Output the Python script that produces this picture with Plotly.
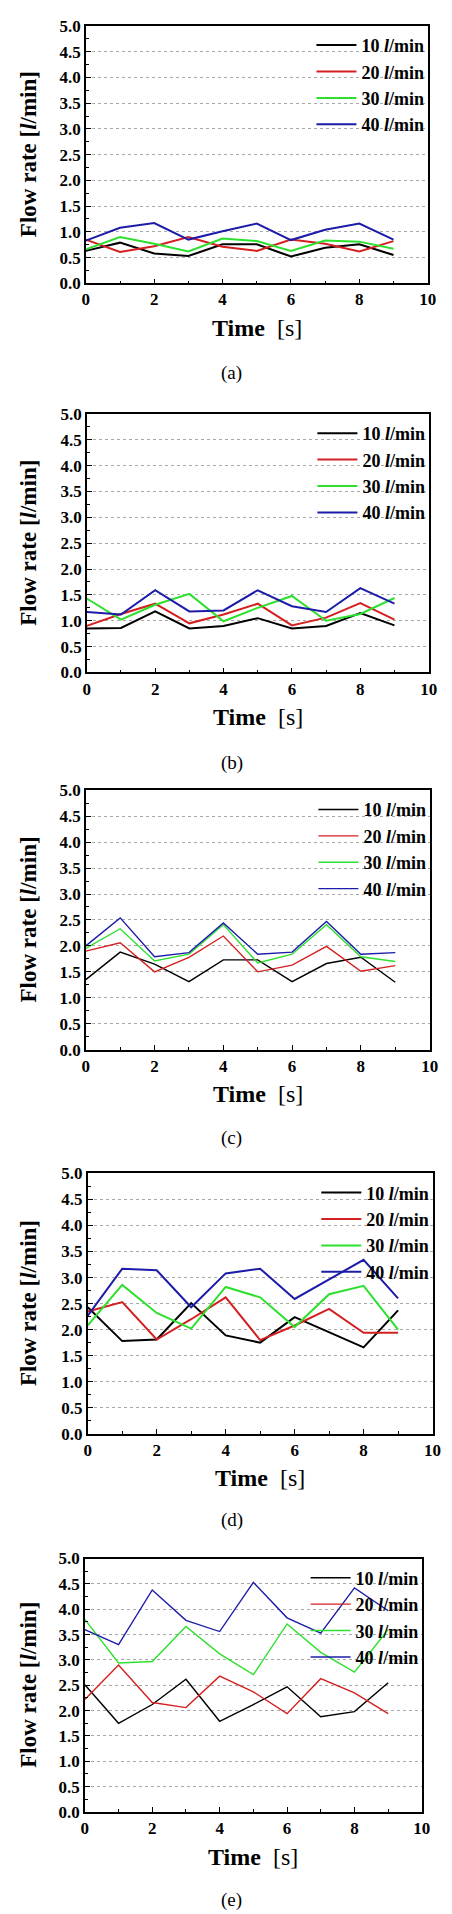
import plotly.graph_objects as go

# ---------------- data ----------------
time_s = [0, 1, 2, 3, 4, 5, 6, 7, 8, 9]
series_labels = ["10 <i>l</i>/min", "20 <i>l</i>/min", "30 <i>l</i>/min", "40 <i>l</i>/min"]
panel_captions = ["(a)", "(b)", "(c)", "(d)", "(e)"]
y_ticks = [0.0, 0.5, 1.0, 1.5, 2.0, 2.5, 3.0, 3.5, 4.0, 4.5, 5.0]
x_ticks = [0, 2, 4, 6, 8, 10]

a_10 = [0.63, 0.79, 0.58, 0.53, 0.76, 0.76, 0.52, 0.69, 0.76, 0.55]
a_20 = [0.85, 0.61, 0.72, 0.90, 0.71, 0.63, 0.85, 0.77, 0.62, 0.82]
a_30 = [0.66, 0.90, 0.77, 0.62, 0.87, 0.82, 0.63, 0.83, 0.81, 0.67]
a_40 = [0.83, 1.08, 1.17, 0.85, 1.01, 1.16, 0.84, 1.04, 1.16, 0.85]

b_10 = [0.85, 0.86, 1.18, 0.85, 0.90, 1.05, 0.85, 0.90, 1.15, 0.91]
b_20 = [0.90, 1.13, 1.33, 0.95, 1.12, 1.33, 0.91, 1.06, 1.34, 1.02]
b_30 = [1.43, 1.02, 1.31, 1.52, 0.99, 1.25, 1.48, 1.00, 1.13, 1.44]
b_40 = [1.17, 1.12, 1.59, 1.18, 1.20, 1.59, 1.28, 1.17, 1.63, 1.33]

c_10 = [1.35, 1.88, 1.65, 1.31, 1.73, 1.73, 1.31, 1.66, 1.78, 1.30]
c_20 = [1.90, 2.06, 1.50, 1.78, 2.19, 1.50, 1.63, 1.99, 1.51, 1.62]
c_30 = [1.95, 2.33, 1.71, 1.84, 2.41, 1.67, 1.84, 2.41, 1.79, 1.70]
c_40 = [2.00, 2.54, 1.79, 1.87, 2.44, 1.84, 1.88, 2.47, 1.84, 1.87]

d_10 = [2.43, 1.78, 1.81, 2.51, 1.89, 1.75, 2.24, 1.95, 1.66, 2.37]
d_20 = [2.35, 2.53, 1.81, 2.20, 2.62, 1.80, 2.08, 2.40, 1.94, 1.94]
d_30 = [2.08, 2.86, 2.32, 2.02, 2.82, 2.62, 2.05, 2.68, 2.84, 2.00]
d_40 = [2.27, 3.17, 3.14, 2.43, 3.08, 3.17, 2.59, 2.96, 3.34, 2.60]

e_10 = [2.51, 1.75, 2.12, 2.62, 1.79, 2.12, 2.47, 1.88, 1.98, 2.55]
e_20 = [2.22, 2.90, 2.16, 2.06, 2.68, 2.37, 1.94, 2.63, 2.35, 1.94]
e_30 = [3.80, 2.94, 2.97, 3.66, 3.12, 2.71, 3.71, 3.15, 2.76, 3.60]
e_40 = [3.60, 3.30, 4.38, 3.78, 3.56, 4.53, 3.83, 3.53, 4.42, 3.97]

panels = [
    [a_10, a_20, a_30, a_40],
    [b_10, b_20, b_30, b_40],
    [c_10, c_20, c_30, c_40],
    [d_10, d_20, d_30, d_40],
    [e_10, e_20, e_30, e_40],
]

# ---------------- layout / style ----------------
W, H = 452, 1914
FONT = "Liberation Serif"
colors = ["#000000", "#d42020", "#2ee02e", "#1c1ca8"]
line_widths = [2.0, 2.0, 1.4, 2.0, 1.4]

# plot-area pixel boxes (left, right, top, bottom)
boxes = [
    (76, 428, 9, 269),
    (77, 429, 401, 662),
    (76, 430, 781, 1043),
    (78, 433, 1168, 1431),
    (75, 422, 1557, 1813),
]
caption_y = [360, 753, 1132, 1518, 1902]


def px(xv):
    return xv / W


def py(yv):
    return 1 - yv / H


fig = go.Figure()
annotations = []
layout_extra = {}

for i, (series, box) in enumerate(zip(panels, boxes)):
    l, r, t, b = box
    sfx = "" if i == 0 else str(i + 1)
    xref = "x" + sfx
    yref = "y" + sfx
    legend_name = "legend" + sfx
    for j, vals in enumerate(series):
        fig.add_trace(go.Scatter(
            x=time_s, y=vals, mode="lines", name="<b>" + series_labels[j] + "</b>",
            line=dict(color=colors[j], width=line_widths[i]),
            xaxis=xref, yaxis=yref, legend=legend_name,
        ))
    layout_extra["xaxis" + sfx] = dict(
        domain=[px(l), px(r)], anchor=yref, range=[0, 10],
        tickvals=x_ticks, ticktext=[f"<b>{v}</b>" for v in x_ticks],
        ticks="inside", ticklen=5, tickwidth=1.2, tickcolor="black",
        minor=dict(dtick=1, ticks="inside", ticklen=3, tickcolor="black", showgrid=False),
        showline=True, linecolor="black", linewidth=1.5, mirror=True,
        showgrid=False, zeroline=False,
        tickfont=dict(family=FONT, size=17, color="black"),
        fixedrange=True,
    )
    layout_extra["yaxis" + sfx] = dict(
        domain=[py(b), py(t)], anchor=xref, range=[0, 5],
        tickvals=y_ticks, ticktext=[f"<b>{v:.1f}</b>" for v in y_ticks],
        ticks="inside", ticklen=5, tickwidth=1.2, tickcolor="black",
        minor=dict(dtick=0.25, ticks="inside", ticklen=3, tickcolor="black", showgrid=False),
        showline=True, linecolor="black", linewidth=1.5, mirror=True,
        showgrid=True, gridcolor="#a8a8a8", gridwidth=1, griddash="dot",
        zeroline=False,
        tickfont=dict(family=FONT, size=17, color="black"),
        fixedrange=True,
    )
    layout_extra[legend_name] = dict(
        x=px(r) + 0.004, xanchor="right", y=py(t + 1), yanchor="top",
        bgcolor="rgba(0,0,0,0)", borderwidth=0,
        font=dict(family=FONT, size=18, color="black"),
        itemwidth=40, tracegroupgap=0, traceorder="normal",
    )
    # axis titles and captions
    annotations.append(dict(
        x=px(17), y=py((t + b) / 2), xref="paper", yref="paper",
        text="<b>Flow rate [<i>l</i>/min]</b>", textangle=-90, showarrow=False,
        font=dict(family=FONT, size=23, color="black"),
        xanchor="center", yanchor="middle",
    ))
    annotations.append(dict(
        x=px((l + r) / 2), y=py(b + 45), xref="paper", yref="paper",
        text="<b>Time</b>  [s]", showarrow=False,
        font=dict(family=FONT, size=24, color="black"),
        xanchor="center", yanchor="middle",
    ))
    annotations.append(dict(
        x=px(226), y=py(caption_y[i]), xref="paper", yref="paper",
        text=panel_captions[i], showarrow=False,
        font=dict(family=FONT, size=19, color="black"),
        xanchor="center", yanchor="middle",
    ))

fig.update_layout(
    width=W, height=H, margin=dict(l=0, r=0, t=0, b=0),
    paper_bgcolor="white", plot_bgcolor="white",
    annotations=annotations, showlegend=True,
    font=dict(family=FONT, color="black"),
    **layout_extra,
)

fig.write_html("out.html")
